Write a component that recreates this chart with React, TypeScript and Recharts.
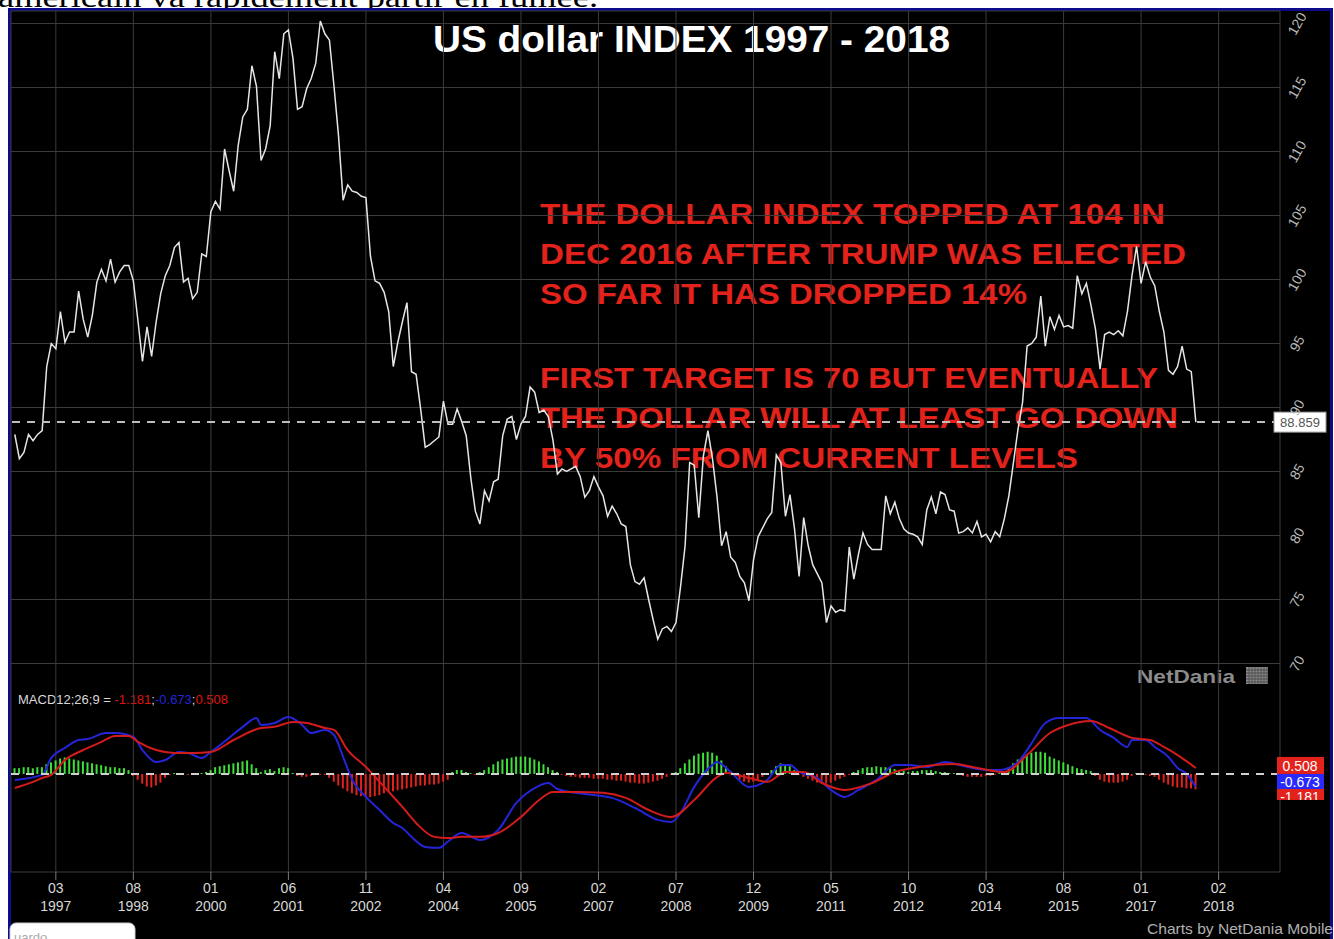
import React from 'react';
import { ComposedChart, Line, Bar, Cell, XAxis, YAxis, CartesianGrid, ReferenceLine } from 'recharts';

// monthly closes, first point = June 1996
const START_YEAR = 1996;
const START_MONTH = 6;

const dxy = [
  87.9, 86.0, 86.5, 87.9, 87.4, 87.9, 88.2, 93.2, 95.0, 94.6,
  97.5, 95.1, 95.9, 95.9, 99.1, 96.9, 95.5, 97.2, 99.8, 100.8,
  99.9, 101.6, 99.8, 100.6, 101.1, 101.1, 99.9, 96.8, 93.6, 96.3,
  94.0, 96.7, 98.9, 100.3, 101.1, 102.5, 102.9, 99.8, 100.1, 98.5,
  99.0, 102.0, 101.8, 105.3, 106.1, 105.5, 110.2, 108.5, 106.9, 110.5,
  112.7, 113.3, 116.7, 115.1, 109.3, 110.2, 112.0, 117.8, 115.7, 119.2,
  119.5, 117.3, 113.3, 113.5, 114.9, 115.7, 116.9, 120.2, 119.2, 118.7,
  115.1, 111.2, 106.2, 107.4, 106.9, 106.8, 106.5, 106.4, 101.8, 99.9,
  99.7, 99.0, 97.5, 93.2, 95.1, 96.7, 98.2, 92.8, 92.6, 89.9,
  86.9, 87.1, 87.4, 87.7, 90.5, 88.7, 88.7, 89.9, 88.9, 87.8,
  84.5, 81.9, 80.9, 83.5, 82.7, 84.2, 84.4, 87.8, 89.1, 89.3,
  87.5, 88.7, 89.3, 91.6, 91.2, 89.6, 89.8, 89.3, 87.5, 84.8,
  85.2, 85.0, 85.2, 85.4, 84.6, 83.0, 83.5, 84.6, 83.8, 83.1,
  81.5, 82.3, 81.7, 80.9, 80.7, 77.7, 76.4, 76.2, 76.7, 75.0,
  73.4, 71.9, 72.7, 72.9, 72.5, 73.2, 76.0, 79.2, 85.7, 85.5,
  81.4, 86.2, 88.2, 86.0, 83.0, 79.2, 80.3, 78.3, 77.9, 76.8,
  76.3, 74.9, 78.1, 79.9, 80.6, 81.3, 81.8, 86.3, 85.7, 81.5,
  83.2, 80.5, 76.8, 81.4, 79.2, 77.7, 77.0, 76.3, 73.2, 74.5,
  74.0, 74.2, 74.1, 79.1, 76.6, 78.5, 80.2, 79.3, 78.9, 78.9,
  78.9, 83.1, 81.7, 82.6, 81.3, 80.5, 80.2, 80.1, 79.9, 79.3,
  82.0, 83.0, 81.7, 83.4, 83.2, 82.0, 81.9, 80.2, 80.3, 80.6,
  80.2, 81.1, 79.9, 80.1, 79.5, 80.3, 79.9, 81.3, 83.1, 85.7,
  88.3, 90.4, 94.8, 95.0, 95.5, 98.7, 94.8, 97.1, 96.1, 97.2,
  96.3, 96.4, 96.2, 100.3, 98.9, 99.7, 98.0, 96.1, 93.0, 95.7,
  95.9, 95.7, 96.0, 95.6, 97.5, 100.3, 102.6, 99.7, 101.4, 100.2,
  99.5, 97.5, 95.9, 92.9, 92.6, 93.2, 94.8, 93.0, 92.8, 88.859,
];

const macdHist = [
  0.3, 0.3, 0.35, 0.35, 0.3, 0.35, 0.35, 0.5, 0.6, 0.7,
  0.8, 0.85, 0.8, 0.75, 0.7, 0.65, 0.6, 0.55, 0.5, 0.45,
  0.4, 0.35, 0.35, 0.3, 0.3, 0.2, -0.1, -0.3, -0.5, -0.65,
  -0.7, -0.6, -0.45, -0.2, -0.05, 0.05, 0.05, -0.05, -0.05, 0.05,
  -0.05, 0.05, 0.1, 0.2, 0.35, 0.4, 0.45, 0.5, 0.55, 0.6,
  0.65, 0.7, 0.5, 0.3, 0.1, 0.2, 0.25, 0.15, 0.3, 0.35,
  0.3, 0.05, -0.1, -0.15, -0.15, -0.1, -0.05, -0.05, -0.05, -0.2,
  -0.4, -0.6, -0.75, -0.9, -1.0, -1.1, -1.15, -1.2, -1.2, -1.15,
  -1.1, -1.0, -0.95, -0.9, -0.85, -0.8, -0.75, -0.7, -0.65, -0.6,
  -0.6, -0.55, -0.55, -0.5, -0.4, -0.3, 0.1, 0.2, 0.2, 0.1,
  0.05, -0.05, 0.1, 0.2, 0.35, 0.5, 0.65, 0.75, 0.8, 0.85,
  0.9, 0.9, 0.9, 0.85, 0.75, 0.65, 0.5, 0.35, 0.2, 0.1,
  -0.05, -0.1, -0.15, -0.15, -0.2, -0.2, -0.2, -0.25, -0.25, -0.25,
  -0.3, -0.3, -0.35, -0.35, -0.4, -0.45, -0.45, -0.5, -0.5, -0.45,
  -0.4, -0.35, -0.25, -0.15, -0.05, 0.1, 0.3, 0.55, 0.75, 0.95,
  1.05, 1.1, 1.15, 1.1, 0.95, 0.7, 0.4, 0.15, -0.15, -0.3,
  -0.4, -0.45, -0.4, -0.3, -0.15, -0.05, 0.2, 0.4, 0.55, 0.5,
  0.4, 0.2, -0.05, -0.15, -0.25, -0.35, -0.45, -0.5, -0.5, -0.45,
  -0.35, -0.25, -0.15, -0.05, 0.1, 0.2, 0.3, 0.35, 0.35, 0.4,
  0.35, 0.35, 0.3, 0.25, 0.2, 0.15, 0.1, 0.15, 0.15, 0.2,
  0.2, 0.2, 0.15, 0.1, 0.1, 0.05, 0.05, -0.05, -0.1, -0.15,
  -0.15, -0.15, -0.15, -0.1, -0.1, -0.05, 0.05, 0.15, 0.35, 0.55,
  0.75, 0.9, 1.0, 1.1, 1.15, 1.15, 1.1, 0.9, 0.8, 0.7,
  0.6, 0.5, 0.4, 0.3, 0.25, 0.2, 0.15, -0.1, -0.3, -0.4,
  -0.45, -0.45, -0.45, -0.4, -0.3, -0.1, 0.05, -0.05, -0.05, -0.1,
  -0.15, -0.3, -0.45, -0.55, -0.65, -0.7, -0.7, -0.75, -0.75, -0.8,
];

// [month index, value] read along the blue MACD line and red signal line
const macdLine: [number, number][] = [
  [0, -0.31], [6, -0.05], [8, 0.83], [11, 1.35], [14, 1.76], [16, 1.81], [20, 2.12], [22, 2.12],
  [26, 1.92], [28, 1.24], [31, 0.62], [33, 0.72], [36, 1.14], [38, 1.09], [41, 0.83], [43, 1.14],
  [47, 1.87], [50, 2.44], [53, 2.9], [54, 2.54], [57, 2.64], [60, 2.95], [63, 2.54], [65, 2.12],
  [68, 2.28], [70, 2.02], [72, 0.88], [74, -0.31], [77, -1.19], [80, -1.87], [83, -2.54], [85, -2.8],
  [87, -3.26], [90, -3.78], [93, -3.83], [95, -3.5], [98, -3.06], [102, -3.42], [106, -2.9], [110, -1.5],
  [114, -0.73], [117, -0.47], [119, -0.78], [125, -1.04], [131, -1.24], [136, -1.76], [141, -2.38],
  [144, -2.49], [146, -2.02], [149, -0.67], [153, 0.47], [154, 0.62], [157, 0.1], [161, -0.67],
  [165, -0.31], [168, 0.47], [170, 0.47], [172, 0.1], [176, -0.21], [179, -0.83], [182, -1.19],
  [185, -0.83], [189, -0.31], [193, 0.47], [196, 0.47], [200, 0.36], [204, 0.62], [208, 0.41],
  [213, 0.21], [216, 0.21], [220, 0.62], [223, 1.6], [226, 2.64], [229, 2.9], [233, 2.9], [235, 2.9],
  [238, 2.28], [241, 1.87], [244, 1.4], [245, 1.76], [248, 1.76], [250, 1.4], [253, 0.88], [255, 0.31],
  [257, 0.0], [259, -0.673],
];

const signalLine: [number, number][] = [
  [0, -0.73], [4, -0.41], [6, -0.21], [8, -0.05], [11, 0.72], [15, 1.24], [19, 1.66], [22, 1.97],
  [25, 1.97], [27, 1.66], [31, 1.24], [35, 1.09], [39, 1.09], [43, 1.14], [48, 1.76], [54, 2.38],
  [57, 2.44], [61, 2.69], [64, 2.64], [68, 2.38], [70, 2.28], [73, 1.24], [77, 0.36], [81, -0.67],
  [85, -1.71], [88, -2.54], [92, -3.26], [95, -3.32], [98, -3.26], [102, -3.26], [106, -3.06],
  [111, -2.23], [115, -1.35], [118, -0.93], [123, -0.93], [129, -0.98], [134, -1.24], [139, -1.87],
  [144, -2.23], [149, -1.35], [154, -0.16], [156, 0.05], [161, -0.21], [165, -0.41], [169, 0.1],
  [173, 0.1], [177, -0.47], [182, -0.83], [188, -0.47], [193, 0.1], [197, 0.31], [206, 0.52],
  [211, 0.31], [217, 0.1], [222, 0.98], [227, 2.12], [231, 2.54], [236, 2.75], [240, 2.38],
  [245, 1.87], [249, 1.76], [252, 1.4], [255, 0.98], [259, 0.31],
];

const priceTicks = [70, 75, 80, 85, 90, 95, 100, 105, 110, 115, 120];
const tickMonths = ['03', '08', '01', '06', '11', '04', '09', '02', '07', '12', '05', '10', '03', '08', '01', '02'];
const tickYears = ['1997', '1998', '2000', '2001', '2002', '2004', '2005', '2007', '2008', '2009', '2011', '2012', '2014', '2015', '2017', '2018'];

const lastValue = 88.859;
const macdLabel = { hist: '-1.181', macd: '-0.673', signal: '0.508' };

const annotationTop = [
  'THE DOLLAR INDEX TOPPED AT 104 IN',
  'DEC 2016 AFTER TRUMP WAS ELECTED',
  'SO FAR IT HAS DROPPED 14%',
];
const annotationBottom = [
  'FIRST TARGET IS 70 BUT EVENTUALLY',
  'THE DOLLAR WILL AT LEAST GO DOWN',
  'BY 50% FROM CURRENT LEVELS',
];

const monthTime = (j: number) => START_YEAR + (START_MONTH - 1 + j) / 12;

const macdMap = new Map(macdLine);
const signalMap = new Map(signalLine);

const rows = dxy.map((v, j) => ({
  t: monthTime(j),
  dxy: v,
  hist: macdHist[j],
  macd: macdMap.get(j),
  signal: signalMap.get(j),
}));

// tick every 17 months from 03/1997
const xTicks = tickMonths.map((_, k) => monthTime(9 + 17 * k));

const FONT = "'Liberation Sans', Arial, sans-serif";
const GREEN = '#3fe03a';
const RED = '#e3221c';
const BLUE = '#2424d8';

const XTick = (props: any) => {
  const { x, y, index } = props;
  return (
    <g>
      <text x={x} y={y + 11} textAnchor="middle" fill="#d8d8d8" fontSize={14} fontFamily={FONT}>
        {tickMonths[index]}
      </text>
      <text x={x} y={y + 29} textAnchor="middle" fill="#d8d8d8" fontSize={14} fontFamily={FONT}>
        {tickYears[index]}
      </text>
    </g>
  );
};

const PriceTick = (props: any) => {
  const { x, y, payload } = props;
  const cx = x + 9;
  return (
    <text
      x={cx}
      y={y}
      transform={`rotate(-60, ${cx}, ${y})`}
      textAnchor="middle"
      dominantBaseline="central"
      fill="#b8b8b8"
      fontSize={14}
      fontFamily={FONT}
    >
      {payload.value}
    </text>
  );
};

const LastPriceLabel = (props: any) => {
  const { viewBox } = props;
  const x = viewBox.x + viewBox.width - 6;
  const y = viewBox.y;
  return (
    <g>
      <rect x={x} y={y - 10} width={52} height={20} fill="#fff" stroke="#999" />
      <text x={x + 26} y={y + 5} textAnchor="middle" fill="#555" fontSize={13} fontFamily={FONT}>
        {lastValue.toFixed(3)}
      </text>
    </g>
  );
};

const MacdBoxes = (props: any) => {
  const { viewBox } = props;
  const x = viewBox.x + viewBox.width - 3;
  const y = viewBox.y;
  return (
    <g fontFamily={FONT} fontSize={14}>
      <defs>
        <clipPath id="histBox">
          <rect x={x} y={y + 15} width={47} height={11} />
        </clipPath>
      </defs>
      <rect x={x} y={y + 15} width={47} height={11} fill={RED} />
      <text x={x + 23} y={y + 28} textAnchor="middle" fill="#fff" clipPath="url(#histBox)">{macdLabel.hist}</text>
      <rect x={x} y={y} width={47} height={15} fill="#2a2aff" />
      <text x={x + 23} y={y + 13} textAnchor="middle" fill="#fff">{macdLabel.macd}</text>
      <rect x={x} y={y - 17} width={47} height={17} fill={RED} />
      <text x={x + 23} y={y - 3} textAnchor="middle" fill="#fff">{macdLabel.signal}</text>
    </g>
  );
};

export default function App() {
  return (
    <div style={{ position: 'absolute', left: 0, top: 0, width: 1334, height: 939, background: '#fff', overflow: 'hidden' }}>
      <svg width={1334} height={20} style={{ position: 'absolute', left: 0, top: 0 }}>
        <text x={-2} y={7} fontSize={30} fontFamily="'Liberation Serif', serif" fill="#000" textLength={600} lengthAdjust="spacingAndGlyphs">
          américain va rapidement partir en fumée.
        </text>
      </svg>
      <div
        style={{
          position: 'absolute',
          left: 8,
          top: 8,
          width: 1325,
          height: 960,
          background: '#000',
          borderTop: '3px solid #0b0b8c',
          borderLeft: '3px solid #0b0b8c',
          borderRight: '3px solid #0b0b8c',
          boxSizing: 'border-box',
        }}
      />
      <svg width={1334} height={939} style={{ position: 'absolute', left: 0, top: 0 }}>
        <text x={433} y={52} fontSize={37} fontWeight="bold" fontFamily={FONT} fill="#fff" textLength={517} lengthAdjust="spacingAndGlyphs">
          US dollar INDEX 1997 - 2018
        </text>
        {annotationTop.map((s, i) => (
          <text key={s} x={540} y={224 + i * 40} fontSize={29} fontWeight="bold" fontFamily={FONT} fill={RED}
            textLength={[625, 646, 487][i]} lengthAdjust="spacingAndGlyphs">
            {s}
          </text>
        ))}
        {annotationBottom.map((s, i) => (
          <text key={s} x={540} y={388 + i * 40} fontSize={29} fontWeight="bold" fontFamily={FONT} fill={RED}
            textLength={[618, 638, 538][i]} lengthAdjust="spacingAndGlyphs">
            {s}
          </text>
        ))}
        <text x={1137} y={683} fontSize={19} fontWeight="bold" fontFamily={FONT} fill="#8c8c8c" textLength={98} lengthAdjust="spacingAndGlyphs">
          NetDania
        </text>
        <rect x={1246} y={667} width={22} height={17} fill="#8a8a8a" />
        {[0, 1, 2, 3, 4].map((k) => (
          <line key={'h' + k} x1={1246} x2={1268} y1={670 + k * 3} y2={670 + k * 3} stroke="#444" strokeWidth={1} />
        ))}
        {[0, 1, 2, 3, 4, 5, 6].map((k) => (
          <line key={'v' + k} x1={1249 + k * 3} x2={1249 + k * 3} y1={667} y2={684} stroke="#555" strokeWidth={1} />
        ))}
        <text x={18} y={704} fontSize={13} fontFamily={FONT} fill="#d8d8d8">
          MACD12;26;9 = <tspan fill="#e0140f">{macdLabel.hist}</tspan>;<tspan fill={BLUE}>{macdLabel.macd}</tspan>;
          <tspan fill="#e0140f">{macdLabel.signal}</tspan>
        </text>
        <text x={1333} y={934} textAnchor="end" fontSize={15} fontFamily={FONT} fill="#b0b0b0" textLength={186} lengthAdjust="spacingAndGlyphs">
          Charts by NetDania Mobile
        </text>
      </svg>
      <div style={{ position: 'absolute', left: 0, top: 0 }}>
        <ComposedChart width={1334} height={939} data={rows} margin={{ top: 11, right: 0, bottom: 0, left: 11 }}>
          <CartesianGrid stroke="#3c3c3c" yAxisId="price" />
          <XAxis
            dataKey="t"
            type="number"
            domain={[monthTime(-0.833), monthTime(277.46)]}
            allowDataOverflow
            ticks={xTicks}
            interval={0}
            height={67}
            axisLine={false}
            tickSize={8}
            tickLine={{ stroke: '#7a7a7a' }}
            tick={<XTick />}
          />
          <YAxis
            yAxisId="price"
            orientation="right"
            width={54}
            domain={[53.71, 120.98]}
            allowDataOverflow
            ticks={priceTicks}
            interval={0}
            axisLine={false}
            tickLine={false}
            tick={<PriceTick />}
          />
          <YAxis yAxisId="macd" hide domain={[-5.08, 39.53]} allowDataOverflow />
          <Bar yAxisId="macd" dataKey="hist" barSize={2} isAnimationActive={false}>
            {rows.map((r, i) => (
              <Cell key={i} fill={r.hist >= 0 ? GREEN : RED} />
            ))}
          </Bar>
          <Line yAxisId="macd" type="monotone" dataKey="macd" stroke={BLUE} strokeWidth={2} dot={false} connectNulls isAnimationActive={false} />
          <Line yAxisId="macd" type="monotone" dataKey="signal" stroke="#d41b1b" strokeWidth={2} dot={false} connectNulls isAnimationActive={false} />
          <ReferenceLine yAxisId="macd" y={0} stroke="#d0d0d0" strokeWidth={2} strokeDasharray="8 7" label={<MacdBoxes />} />
          <Line yAxisId="price" type="linear" dataKey="dxy" stroke="#e6e6e6" strokeWidth={1.5} dot={false} isAnimationActive={false} />
          <ReferenceLine yAxisId="price" y={lastValue} stroke="#bdbdbd" strokeWidth={2} strokeDasharray="8 7" label={<LastPriceLabel />} />
        </ComposedChart>
      </div>
      <svg width={1334} height={939} style={{ position: 'absolute', left: 0, top: 0, pointerEvents: 'none' }}>
        <rect x={10} y={923} width={125} height={30} rx={6} fill="#fff" stroke="#ccc" />
        <text x={14} y={942} fontSize={13} fontFamily={FONT} fill="#aaa">uardo</text>
      </svg>
    </div>
  );
}
